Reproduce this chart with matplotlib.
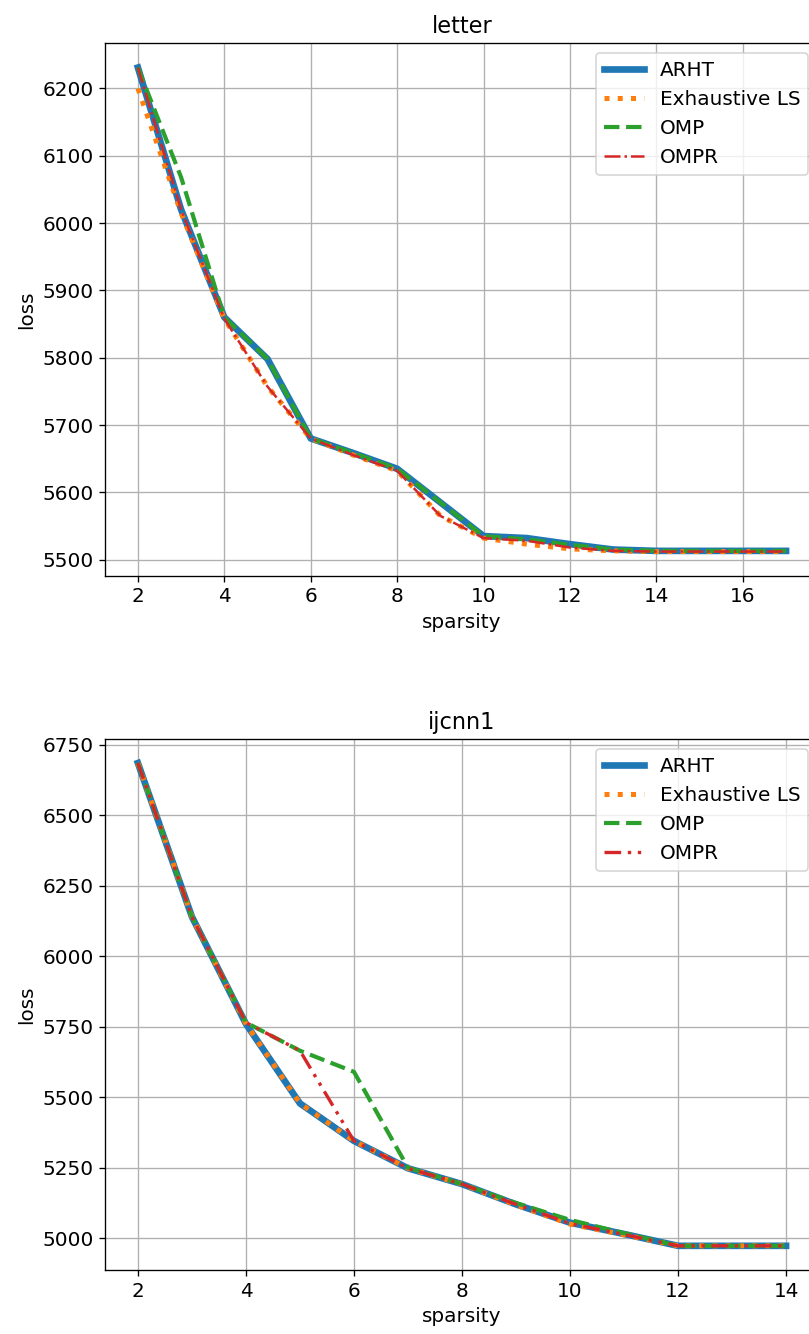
import matplotlib
matplotlib.use("Agg")
import matplotlib.pyplot as plt

# letter dataset
letter_sparsity = [2, 3, 4, 5, 6, 7, 8, 9, 10, 11, 12, 13, 14, 15, 16, 17]
letter_arht = [6231, 6020, 5860, 5798, 5680, 5658, 5635, 5585, 5535, 5532, 5523, 5515, 5513, 5513, 5513, 5513]
letter_exhaustive = [6200, 6015, 5858, 5757, 5680, 5655, 5632, 5565, 5532, 5523, 5516, 5513, 5512, 5512, 5512, 5512]
letter_omp = [6231, 6068, 5860, 5798, 5680, 5658, 5635, 5585, 5535, 5530, 5522, 5515, 5513, 5513, 5513, 5513]
letter_ompr = [6231, 6020, 5858, 5757, 5680, 5655, 5632, 5565, 5532, 5528, 5518, 5513, 5512, 5512, 5512, 5512]

# ijcnn1 dataset
ijcnn_sparsity = [2, 3, 4, 5, 6, 7, 8, 9, 10, 11, 12, 13, 14]
ijcnn_arht = [6685, 6140, 5760, 5478, 5345, 5248, 5192, 5120, 5055, 5015, 4973, 4973, 4973]
ijcnn_exhaustive = [6685, 6140, 5760, 5478, 5345, 5248, 5192, 5118, 5050, 5012, 4973, 4973, 4973]
ijcnn_omp = [6685, 6140, 5765, 5665, 5590, 5250, 5192, 5125, 5065, 5018, 4973, 4973, 4973]
ijcnn_ompr = [6685, 6140, 5765, 5665, 5345, 5248, 5192, 5120, 5052, 5013, 4973, 4973, 4973]

plt.rcParams['font.size'] = 12
plt.rcParams['axes.titlesize'] = 13.5

fig = plt.figure(figsize=(809 / 120, 1334 / 120), dpi=120)
ax1 = fig.add_axes([0.1304, 0.5684, 0.8813, 0.3991])
ax2 = fig.add_axes([0.1304, 0.0480, 0.8813, 0.3981])

ax1.plot(letter_sparsity, letter_arht, '-', color='tab:blue', lw=4, label='ARHT')
ax1.plot(letter_sparsity, letter_exhaustive, ':', color='tab:orange', lw=3, label='Exhaustive LS')
ax1.plot(letter_sparsity, letter_omp, '--', color='tab:green', lw=2.5, label='OMP')
ax1.plot(letter_sparsity, letter_ompr, '-.', color='tab:red', lw=1.5, label='OMPR')
ax1.set_title('letter')
ax1.set_xlabel('sparsity')
ax1.set_ylabel('loss')
ax1.set_xticks([2, 4, 6, 8, 10, 12, 14, 16])
ax1.grid(True)
ax1.legend(loc='upper right')

ax2.plot(ijcnn_sparsity, ijcnn_arht, '-', color='tab:blue', lw=4, label='ARHT')
ax2.plot(ijcnn_sparsity, ijcnn_exhaustive, ':', color='tab:orange', lw=3, label='Exhaustive LS')
ax2.plot(ijcnn_sparsity, ijcnn_omp, '--', color='tab:green', lw=2.5, label='OMP')
ax2.plot(ijcnn_sparsity, ijcnn_ompr, color='tab:red', lw=2, linestyle=(0, (5, 2, 1, 2, 1, 2)), label='OMPR')
ax2.set_title('ijcnn1')
ax2.set_xlabel('sparsity')
ax2.set_ylabel('loss')
ax2.set_xticks([2, 4, 6, 8, 10, 12, 14])
ax2.set_yticks([5000, 5250, 5500, 5750, 6000, 6250, 6500, 6750])
ax2.grid(True)
ax2.legend(loc='upper right')

fig.savefig('out.png', dpi=120)
plt.close(fig)
